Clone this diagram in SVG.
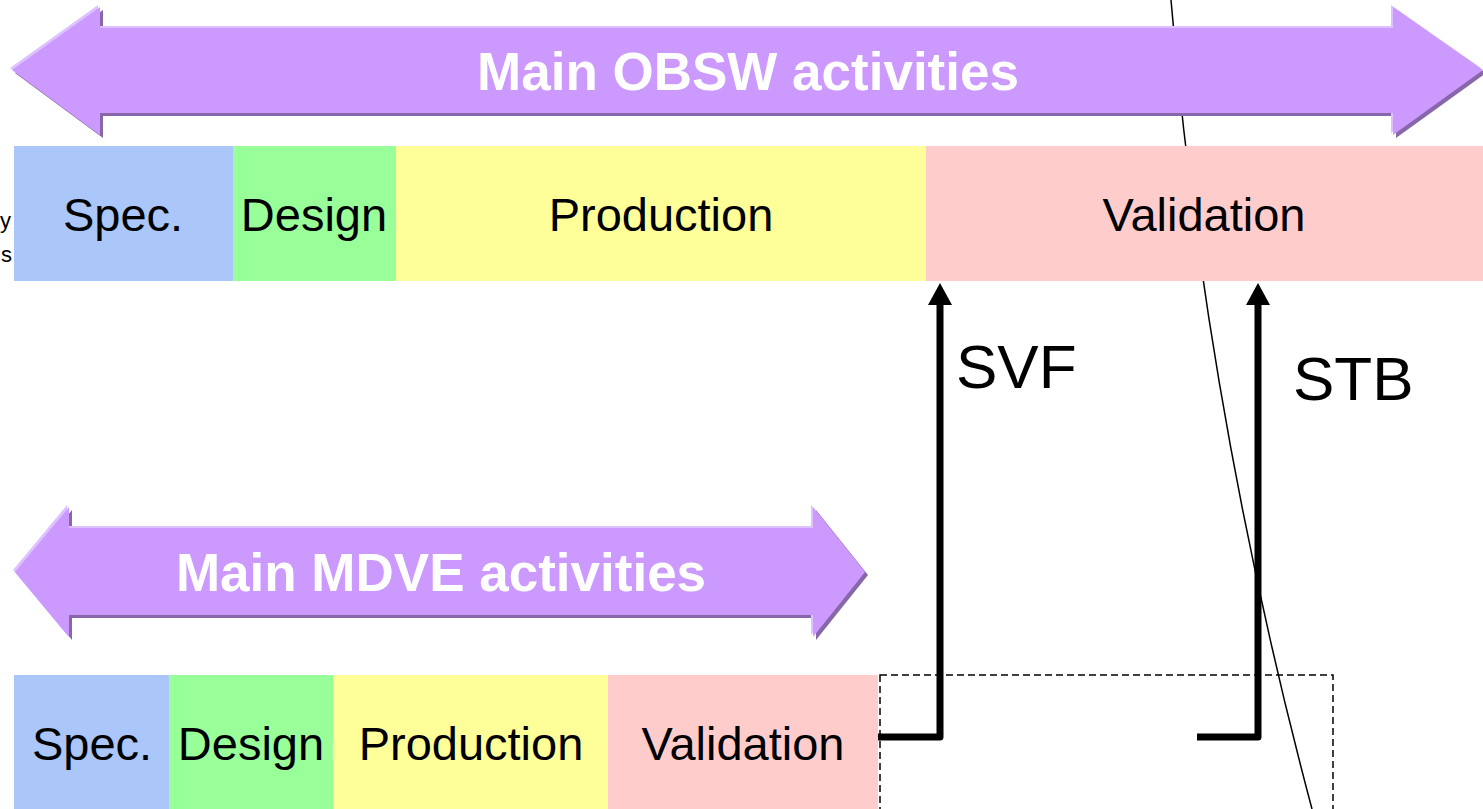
<svg xmlns="http://www.w3.org/2000/svg" width="1483" height="809" viewBox="0 0 1483 809">
<style>
.lbl{font-family:"Liberation Sans",Arial,sans-serif;font-size:47px;fill:#000;text-anchor:middle}
.ttl{font-family:"Liberation Sans",Arial,sans-serif;font-size:53px;font-weight:bold;fill:#fff;text-anchor:middle}
.big{font-family:"Liberation Sans",Arial,sans-serif;font-size:62px;fill:#000}
.spec{fill:#abc6f9}.design{fill:#99ff99}.prod{fill:#ffff99}.valid{fill:#ffcccc}
.conn{fill:none;stroke:#000;stroke-width:7;stroke-linejoin:round}
</style>
<defs>
<path id="topArrow" d="M12,70 L100,7 L100,28 L1393,28 L1393,7 L1483,70 L1393,135 L1393,113 L100,113 L100,135 Z"/>
<path id="botArrow" d="M15,572 L69,507 L69,528 L813,528 L813,507 L865,572 L813,637 L813,615 L69,615 L69,637 Z"/>
<marker id="ah" markerUnits="userSpaceOnUse" markerWidth="22" markerHeight="24" refX="0" refY="12" orient="auto" viewBox="0 0 22 24">
<path d="M0,0 L22,12 L0,24 Z" fill="#000"/>
</marker>
</defs>

<g id="curve"><path d="M1171,0 C1192,250 1235,520 1312,809" fill="none" stroke="#000" stroke-width="1.5"/></g>

<g id="partial-text">
<text x="0" y="228" font-family="Liberation Sans,Arial,sans-serif" font-size="22">y</text>
<text x="1" y="262" font-family="Liberation Sans,Arial,sans-serif" font-size="22">s</text>
</g>

<g id="obsw-arrow">
<use href="#topArrow" transform="translate(3,3)" fill="#8866aa"/>
<use href="#topArrow" transform="translate(-2,-2)" fill="#ddc2ff"/>
<use href="#topArrow" fill="#cc99ff"/>
<text class="ttl" x="748" y="90">Main OBSW activities</text>
</g>

<g id="obsw-spec"><rect class="spec" x="14" y="146" width="219" height="135"/><text class="lbl" x="123" y="231">Spec.</text></g>
<g id="obsw-design"><rect class="design" x="233" y="146" width="163" height="135"/><text class="lbl" x="314" y="231">Design</text></g>
<g id="obsw-production"><rect class="prod" x="396" y="146" width="530" height="135"/><text class="lbl" x="661" y="231">Production</text></g>
<g id="obsw-validation"><rect class="valid" x="926" y="146" width="557" height="135"/><text class="lbl" x="1204" y="231">Validation</text></g>

<g id="mdve-arrow">
<use href="#botArrow" transform="translate(3,3)" fill="#8866aa"/>
<use href="#botArrow" transform="translate(-2,-2)" fill="#ddc2ff"/>
<use href="#botArrow" fill="#cc99ff"/>
<text class="ttl" x="441" y="591">Main MDVE activities</text>
</g>

<g id="mdve-spec"><rect class="spec" x="14" y="675" width="155" height="134"/><text class="lbl" x="92" y="760">Spec.</text></g>
<g id="mdve-design"><rect class="design" x="169" y="675" width="164" height="134"/><text class="lbl" x="251" y="760">Design</text></g>
<g id="mdve-production"><rect class="prod" x="333" y="675" width="275" height="134"/><text class="lbl" x="471" y="760">Production</text></g>
<g id="mdve-validation"><rect class="valid" x="608" y="675" width="270" height="134"/><text class="lbl" x="743" y="760">Validation</text></g>

<g id="dashed-box"><rect x="880" y="675" width="453" height="150" fill="none" stroke="#000" stroke-width="1.5" stroke-dasharray="7,4"/></g>

<g id="connectors">
<path class="conn" d="M878,737 H940 V305" marker-end="url(#ah)"/>
<path class="conn" d="M1197,737 H1258 V305" marker-end="url(#ah)"/>
<text class="big" x="956" y="388">SVF</text>
<text class="big" x="1293" y="400">STB</text>
</g>
</svg>
